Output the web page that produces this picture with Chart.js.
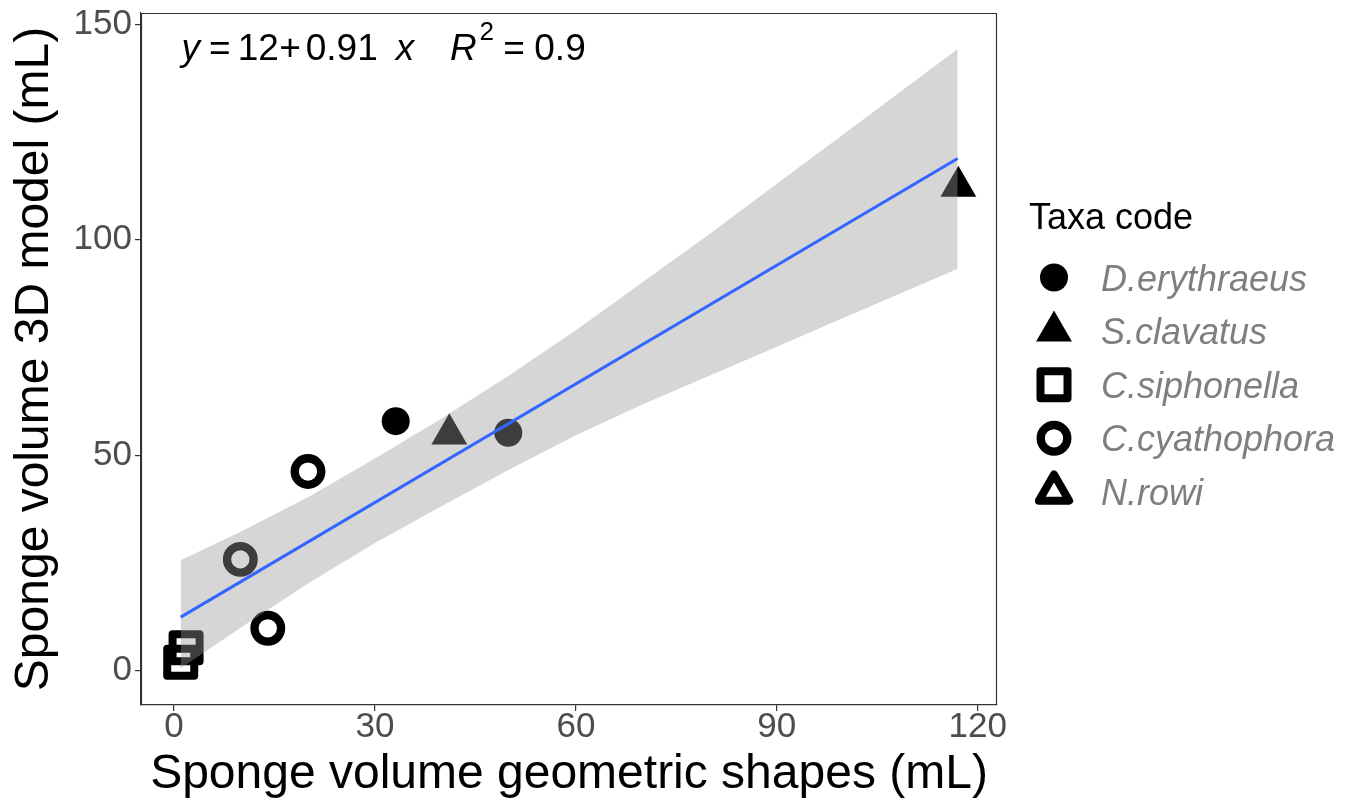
<!DOCTYPE html>
<html><head><meta charset="utf-8">
<script src="https://cdn.jsdelivr.net/npm/chart.js@4.4.1/dist/chart.umd.min.js"></script>
<style>html,body{margin:0;padding:0;background:#fff;} #wrap{position:relative;width:1353px;height:802px;}</style>
</head><body><div id="wrap"><canvas id="c" width="1353" height="802"></canvas></div>
<script>
// ---- data ----
const taxa = ['D.erythraeus', 'S.clavatus', 'C.siphonella', 'C.cyathophora', 'N.rowi'];
const dErythraeus = [{x: 33.1, y: 57.9}, {x: 49.9, y: 55.2}];
const sClavatus = [{x: 41.1, y: 54.9}, {x: 117.1, y: 112.4}];
const cSiphonella = [{x: 1.0, y: 1.9}, {x: 1.8, y: 5.3}];
const cCyathophora = [{x: 20.0, y: 46.2}, {x: 9.9, y: 25.8}, {x: 14.0, y: 9.8}];
const nRowi = [];
const fitX = [1, 117];
const fitY = [12.4, 118.9];
const bandX = [1, 10, 20, 30, 40, 50, 60, 70, 80, 90, 100, 110, 117];
const bandUpper = [25.6, 32.3, 40.2, 49.2, 58.6, 68.5, 79.0, 90.2, 101.4, 113.0, 124.6, 136.2, 144.3];
const bandLower = [0.5, 10.0, 20.2, 29.6, 38.2, 46.6, 54.6, 61.8, 68.5, 75.2, 81.9, 88.6, 93.3];
const xTicks = [0, 30, 60, 90, 120];
const yTicks = [0, 50, 100, 150];
const xTitle = 'Sponge volume geometric shapes (mL)';
const yTitle = 'Sponge volume 3D model (mL)';
const legendTitle = 'Taxa code';
// equation pieces: text, italic?, superscript?
const eqParts = [['y', 1, 0], ['=', 0, 0], ['12', 0, 0], ['+', 0, 0], ['0.91', 0, 0], ['x', 1, 0], ['R', 1, 0], ['2', 0, 1], ['=', 0, 0], ['0.9', 0, 0]];

const FONT = "'Liberation Sans', Arial, sans-serif";
const toXY = (xs, ys) => xs.map((x, i) => ({x, y: ys[i]}));

// point styles per taxon
const styles = [
  {pointStyle: 'circle', radius: 14, borderWidth: 0, fill: '#000'},
  {pointStyle: 'triangle', radius: 20.7, borderWidth: 0, fill: '#000'},
  {pointStyle: 'rect', radius: 19.1, borderWidth: 8, fill: 'rgba(0,0,0,0)'},
  {pointStyle: 'circle', radius: 13.3, borderWidth: 8.3, fill: 'rgba(0,0,0,0)'},
  {pointStyle: 'triangle', radius: 17.5, borderWidth: 8, fill: 'rgba(0,0,0,0)'}
];
const seriesData = [dErythraeus, sClavatus, cSiphonella, cCyathophora, nRowi];

const pointSets = taxa.map((name, i) => ({
  type: 'scatter',
  label: name,
  data: seriesData[i],
  pointStyle: styles[i].pointStyle,
  pointRadius: styles[i].radius,
  pointBorderWidth: styles[i].borderWidth,
  pointBackgroundColor: styles[i].fill,
  pointBorderColor: '#000',
  clip: false,
  order: 3 + i
}));

const datasets = [
  {type: 'line', label: 'fit', data: toXY(fitX, fitY), borderColor: '#3366FF', borderWidth: 3,
   pointRadius: 0, fill: false, tension: 0, order: 0},
  {type: 'line', label: 'upper', data: toXY(bandX, bandUpper), borderColor: 'rgba(0,0,0,0)', borderWidth: 0,
   pointRadius: 0, fill: '+1', backgroundColor: 'rgba(153,153,153,0.4)', tension: 0, order: 1},
  {type: 'line', label: 'lower', data: toXY(bandX, bandLower), borderColor: 'rgba(0,0,0,0)', borderWidth: 0,
   pointRadius: 0, fill: false, tension: 0, order: 2},
  ...pointSets
];

const PANEL = {left: 141, top: 13, right: 997, bottom: 705};
const EQ_X = [190.8, 219.7, 258.3, 290, 341.7, 405, 463.3, 486.7, 514, 560];

const decor = {
  id: 'decor',
  beforeDatasetsDraw(chart) { chart.ctx.lineJoin = 'round'; },
  afterDraw(chart) {
    const ctx = chart.ctx;
    const a = chart.chartArea;
    ctx.save();
    // panel border
    ctx.strokeStyle = '#333333';
    ctx.lineWidth = 1.2;
    ctx.strokeRect(a.left + 0.5, a.top + 0.5, a.right - a.left - 1, a.bottom - a.top - 1);

    // equation
    ctx.fillStyle = '#000';
    ctx.textBaseline = 'alphabetic';
    ctx.textAlign = 'center';
    eqParts.forEach(([t, it, sup], i) => {
      ctx.font = (it ? 'italic ' : '') + (sup ? 26 : 37) + 'px ' + FONT;
      ctx.fillText(t, EQ_X[i], sup ? 40 : 60);
    });

    // legend
    ctx.textAlign = 'left';
    ctx.font = '36px ' + FONT;
    ctx.fillStyle = '#000';
    ctx.fillText(legendTitle, 1029, 229);
    taxa.forEach((name, i) => {
      const cy = 277.5 + 53.6 * i;
      const st = styles[i];
      ctx.lineJoin = 'round';
      ctx.fillStyle = st.fill;
      ctx.strokeStyle = '#000';
      ctx.lineWidth = st.borderWidth;
      Chart.helpers.drawPoint(ctx, {pointStyle: st.pointStyle, radius: st.radius, borderWidth: st.borderWidth, rotation: 0}, 1054, cy);
      ctx.font = 'italic 36px ' + FONT;
      ctx.fillStyle = '#7f7f7f';
      ctx.fillText(name, 1101, cy + 13);
    });
    ctx.restore();
  }
};

new Chart(document.getElementById('c'), {
  type: 'scatter',
  data: {datasets},
  options: {
    responsive: false,
    animation: false,
    devicePixelRatio: 1,
    events: [],
    layout: {autoPadding: false, padding: {left: 0, right: 1353 - PANEL.right, top: PANEL.top, bottom: 0}},
    plugins: {legend: {display: false}, tooltip: {enabled: false}},
    scales: {
      x: {
        type: 'linear', position: 'bottom', min: -4.93, max: 122.87,
        afterBuildTicks: s => { s.ticks = xTicks.map(v => ({value: v})); },
        afterFit: s => { s.height = 802 - PANEL.bottom; s.paddingLeft = 0; s.paddingRight = 0; },
        grid: {display: true, drawOnChartArea: false, drawTicks: true, tickLength: 6, color: '#333333', lineWidth: 1.2},
        border: {display: true, color: '#333333', width: 1.2},
        ticks: {color: '#4d4d4d', font: {family: FONT, size: 35, lineHeight: 1}, padding: -1, maxRotation: 0, autoSkip: false},
        title: {display: true, text: xTitle, color: '#000', font: {family: FONT, size: 48, lineHeight: 1}, padding: {top: 0, bottom: 3}}
      },
      y: {
        type: 'linear', position: 'left', min: -8.01, max: 152.67,
        afterBuildTicks: s => { s.ticks = yTicks.map(v => ({value: v})); },
        afterFit: s => { s.width = PANEL.left; s.paddingTop = 0; s.paddingBottom = 0; },
        grid: {display: true, drawOnChartArea: false, drawTicks: true, tickLength: 6, color: '#333333', lineWidth: 1.2},
        border: {display: true, color: '#333333', width: 1.2},
        ticks: {color: '#4d4d4d', font: {family: FONT, size: 35, lineHeight: 1}, padding: 3, autoSkip: false},
        title: {display: true, text: yTitle, color: '#000', font: {family: FONT, size: 48, lineHeight: 1}, padding: {top: 11, bottom: 0}}
      }
    }
  },
  plugins: [decor]
});
</script>
</body></html>
